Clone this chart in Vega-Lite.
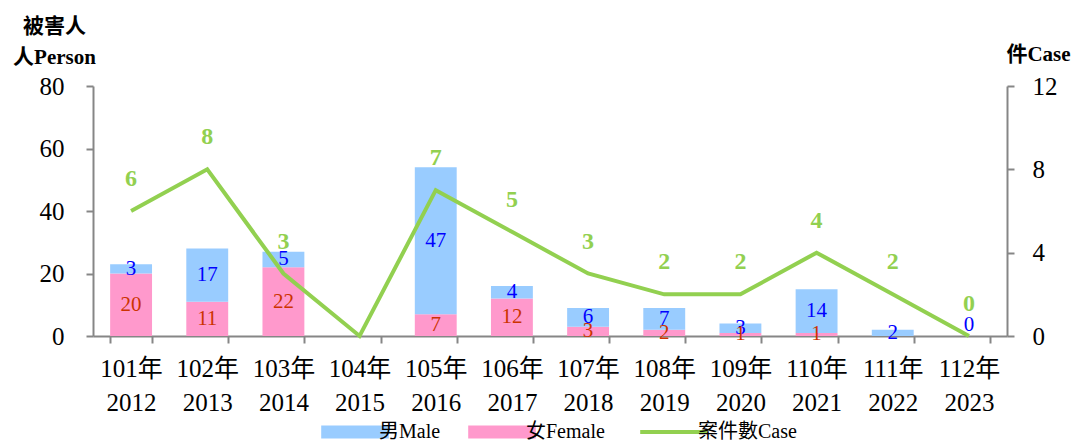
{
  "$schema": "https://vega.github.io/schema/vega-lite/v6.json",
  "width": 914,
  "height": 250,
  "autosize": {"type": "none"},
  "padding": {"left": 93, "top": 86, "right": 74, "bottom": 105},
  "background": "white",
  "config": {"view": {"stroke": null}, "font": "Liberation Serif, Noto Sans CJK TC"},
  "datasets": {
    "people": [
      {"period": "101年 2012", "sex": "女Female", "count": 20},
      {"period": "101年 2012", "sex": "男Male", "count": 3},
      {"period": "102年 2013", "sex": "女Female", "count": 11},
      {"period": "102年 2013", "sex": "男Male", "count": 17},
      {"period": "103年 2014", "sex": "女Female", "count": 22},
      {"period": "103年 2014", "sex": "男Male", "count": 5},
      {"period": "105年 2016", "sex": "女Female", "count": 7},
      {"period": "105年 2016", "sex": "男Male", "count": 47},
      {"period": "106年 2017", "sex": "女Female", "count": 12},
      {"period": "106年 2017", "sex": "男Male", "count": 4},
      {"period": "107年 2018", "sex": "女Female", "count": 3},
      {"period": "107年 2018", "sex": "男Male", "count": 6},
      {"period": "108年 2019", "sex": "女Female", "count": 2},
      {"period": "108年 2019", "sex": "男Male", "count": 7},
      {"period": "109年 2020", "sex": "女Female", "count": 1},
      {"period": "109年 2020", "sex": "男Male", "count": 3},
      {"period": "110年 2021", "sex": "女Female", "count": 1},
      {"period": "110年 2021", "sex": "男Male", "count": 14},
      {"period": "111年 2022", "sex": "男Male", "count": 2},
      {"period": "112年 2023", "sex": "男Male", "count": 0}
    ],
    "cases": [
      {"period": "101年 2012", "cases": 6},
      {"period": "102年 2013", "cases": 8},
      {"period": "103年 2014", "cases": 3},
      {"period": "104年 2015", "cases": 0},
      {"period": "105年 2016", "cases": 7},
      {"period": "106年 2017", "cases": 5},
      {"period": "107年 2018", "cases": 3},
      {"period": "108年 2019", "cases": 2},
      {"period": "109年 2020", "cases": 2},
      {"period": "110年 2021", "cases": 4},
      {"period": "111年 2022", "cases": 2},
      {"period": "112年 2023", "cases": 0}
    ]
  },
  "encoding": {
    "x": {
      "field": "period",
      "type": "ordinal",
      "scale": {
        "domain": ["101年 2012", "102年 2013", "103年 2014", "104年 2015", "105年 2016", "106年 2017", "107年 2018", "108年 2019", "109年 2020", "110年 2021", "111年 2022", "112年 2023"],
        "paddingInner": 0.45,
        "paddingOuter": 0.225
      },
      "axis": {
        "title": null,
        "labelExpr": "split(datum.label, ' ')",
        "labelAngle": 0,
        "labelFontSize": 25,
        "labelLineHeight": 34,
        "labelBaseline": "top",
        "labelPadding": 13,
        "labelColor": "black",
        "tickBand": "extent",
        "tickSize": 7,
        "tickWidth": 2,
        "tickColor": "#868686",
        "domainColor": "#868686",
        "domainWidth": 2,
        "grid": false
      }
    }
  },
  "layer": [
    {
      "data": {"name": "people"},
      "transform": [
        {"stack": "count", "groupby": ["period"], "sort": [{"field": "sex", "order": "ascending"}], "as": ["y0", "y1"]},
        {"calculate": "(datum.y0 + datum.y1) / 2", "as": "mid"}
      ],
      "layer": [
        {
          "mark": {"type": "bar"},
          "encoding": {
            "y": {
              "field": "y0",
              "type": "quantitative",
              "scale": {"domain": [0, 80], "nice": false},
              "axis": {
                "orient": "left",
                "values": [0, 20, 40, 60, 80],
                "title": ["被害人", "人Person"],
                "titleAngle": 0,
                "titleX": -39,
                "titleY": -54,
                "titleAlign": "center",
                "titleBaseline": "alphabetic",
                "titleFontSize": 21,
                "titleFontWeight": "bold",
                "titleLineHeight": 31,
                "titleColor": "black",
                "labelFontSize": 25,
                "labelPadding": 22,
                "labelColor": "black",
                "tickSize": 7,
                "tickWidth": 2,
                "tickColor": "#868686",
                "domainColor": "#868686",
                "domainWidth": 2,
                "grid": false
              }
            },
            "y2": {"field": "y1"},
            "color": {
              "field": "sex",
              "type": "nominal",
              "scale": {"domain": ["男Male", "女Female", "案件數Case"], "range": ["#99CCFF", "#FF99CC", "#92D050"]},
              "legend": {
                "title": null,
                "orient": "none",
                "legendX": 252,
                "legendY": 336,
                "direction": "horizontal",
                "labelFontSize": 20,
                "labelColor": "black",
                "symbolSize": 4570,
                "columnPadding": 27,
                "labelOffset": 14,
                "encode": {
                  "symbols": {
                    "update": {
                      "shape": {"signal": "datum.value === '案件數Case' ? 'stroke' : 'M-1,-0.19H1V0.19H-1Z'"},
                      "fill": {"signal": "datum.value === '案件數Case' ? 'transparent' : (datum.value === '男Male' ? '#99CCFF' : '#FF99CC')"},
                      "stroke": {"signal": "datum.value === '案件數Case' ? '#92D050' : 'transparent'"},
                      "strokeWidth": {"signal": "datum.value === '案件數Case' ? 4 : 0"},
                      "opacity": {"value": 1}
                    }
                  }
                }
              }
            }
          }
        },
        {
          "transform": [{"filter": "datum.sex === '男Male' && datum.count > 0"}],
          "mark": {"type": "text", "fontSize": 21, "color": "#0000FF"},
          "encoding": {
            "y": {"field": "mid", "type": "quantitative"},
            "text": {"field": "count", "type": "quantitative"}
          }
        },
        {
          "transform": [{"filter": "datum.sex === '男Male' && datum.count === 0"}],
          "mark": {"type": "text", "fontSize": 21, "color": "#0000FF", "dy": -11},
          "encoding": {
            "y": {"field": "mid", "type": "quantitative"},
            "text": {"field": "count", "type": "quantitative"}
          }
        },
        {
          "transform": [{"filter": "datum.sex === '女Female'"}],
          "mark": {"type": "text", "fontSize": 21, "color": "#CC3300"},
          "encoding": {
            "y": {"field": "mid", "type": "quantitative"},
            "text": {"field": "count", "type": "quantitative"}
          }
        }
      ]
    },
    {
      "data": {"name": "cases"},
      "layer": [
        {
          "mark": {"type": "line", "strokeWidth": 4},
          "encoding": {
            "y": {
              "field": "cases",
              "type": "quantitative",
              "scale": {"domain": [0, 12], "nice": false},
              "axis": {
                "orient": "right",
                "values": [0, 4, 8, 12],
                "title": "件Case",
                "titleAngle": 0,
                "titleX": 31,
                "titleY": -26,
                "titleAlign": "center",
                "titleBaseline": "alphabetic",
                "titleFontSize": 21,
                "titleFontWeight": "bold",
                "titleColor": "black",
                "labelFontSize": 25,
                "labelPadding": 18,
                "labelColor": "black",
                "tickSize": 7,
                "tickWidth": 2,
                "tickColor": "#868686",
                "domainColor": "#868686",
                "domainWidth": 2,
                "grid": false
              }
            },
            "color": {"datum": "案件數Case", "type": "nominal"}
          }
        },
        {
          "transform": [{"filter": "datum.period !== '104年 2015'"}],
          "mark": {"type": "text", "dy": -32, "fontSize": 24, "fontWeight": "bold", "color": "#92D050"},
          "encoding": {
            "y": {"field": "cases", "type": "quantitative"},
            "text": {"field": "cases", "type": "quantitative"}
          }
        }
      ]
    }
  ],
  "resolve": {"scale": {"y": "independent"}}
}
